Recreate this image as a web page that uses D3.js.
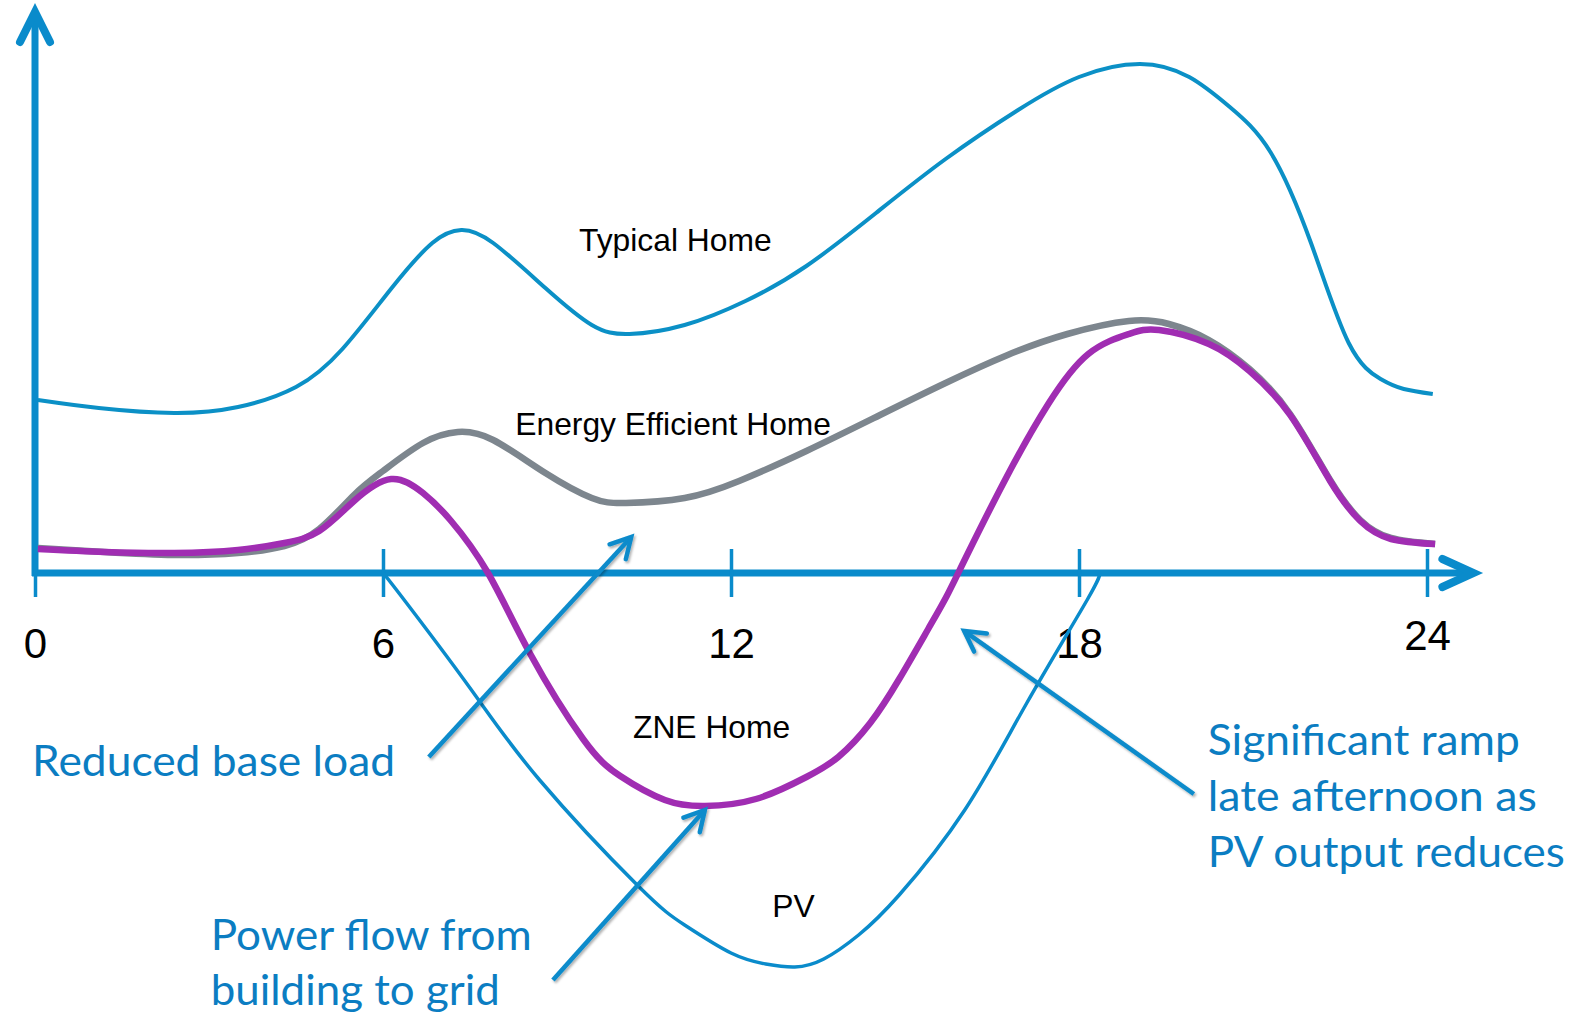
<!DOCTYPE html>
<html>
<head>
<meta charset="utf-8">
<script src="https://cdn.jsdelivr.net/npm/d3@7"></script>
<style>
    html, body { margin: 0; padding: 0; background: #fff; }
    svg { display: block; }
</style>
</head>
<body>
<div id="chart"></div>
<script>
// hours of the day shown on the x axis
const hourTicks = [0, 6, 12, 18, 24];

// load profiles, [hour, load] pairs
const typicalHome = [
    [0.05, 1.73], [1.1, 1.65], [2.4, 1.60], [3.5, 1.66], [4.5, 1.86], [5.3, 2.24],
    [6.15, 2.85], [6.85, 3.30], [7.35, 3.43], [7.9, 3.30], [8.8, 2.85], [9.6, 2.48],
    [10.25, 2.39], [11.2, 2.48], [12.25, 2.72], [13.3, 3.07], [14.5, 3.60], [15.7, 4.14],
    [16.95, 4.63], [18.0, 4.96], [19.05, 5.09], [19.9, 4.96], [20.6, 4.66], [21.3, 4.21],
    [22.0, 3.30], [22.65, 2.30], [23.2, 1.94], [23.6, 1.84], [24.1, 1.79]
];

const efficientHome = [
    [0.05, 0.25], [1.2, 0.21], [2.4, 0.18], [3.5, 0.20], [4.3, 0.27], [4.9, 0.44],
    [5.5, 0.78], [6.0, 1.02], [6.69, 1.30], [7.29, 1.41], [7.9, 1.33], [8.8, 1.00],
    [9.6, 0.75], [10.19, 0.70], [11.2, 0.75], [12.14, 0.92], [13.3, 1.22], [14.57, 1.58],
    [15.7, 1.90], [16.77, 2.18], [17.8, 2.39], [18.86, 2.52], [19.55, 2.49], [20.24, 2.33],
    [20.94, 2.04], [21.64, 1.59], [22.33, 0.93], [22.85, 0.53], [23.38, 0.35], [24.14, 0.29]
];

const zneHome = [
    [0.05, 0.24], [1.2, 0.21], [2.4, 0.20], [3.5, 0.23], [4.3, 0.30], [4.9, 0.42],
    [5.5, 0.72], [6.14, 0.94], [6.69, 0.80], [7.16, 0.53], [7.81, 0.0], [8.53, -0.80],
    [9.45, -1.66], [10.09, -2.03], [10.86, -2.27], [11.55, -2.33], [12.43, -2.26], [13.3, -2.04],
    [13.85, -1.84], [14.4, -1.50], [14.9, -1.06], [15.4, -0.56], [15.72, -0.23], [16.07, 0.18],
    [16.77, 0.98], [17.47, 1.69], [18.16, 2.19], [18.86, 2.39], [19.38, 2.43], [20.24, 2.29],
    [20.94, 2.02], [21.64, 1.58], [22.33, 0.92], [22.85, 0.52], [23.38, 0.34], [24.14, 0.29]
];

const pvOutput = [
    [6.0, 0.0], [6.3, -0.22], [7.5, -1.15], [8.7, -2.07], [10.4, -3.13], [11.2, -3.52],
    [12.0, -3.80], [12.6, -3.91], [13.1, -3.94], [13.6, -3.86], [14.2, -3.62], [14.9, -3.22],
    [16.03, -2.37], [17.1, -1.30], [18.14, -0.27], [18.36, 0.0]
];

const seriesNames = ["Typical Home", "Energy Efficient Home", "ZNE Home", "PV"];

const notes = [
    ["Reduced base load"],
    ["Power flow from", "building to grid"],
    ["Significant ramp", "late afternoon as", "PV output reduces"]
];

// callout arrows, [from, to] in [hour, load]
const noteArrows = [
    [[6.79, -1.84], [10.28, 0.36]],
    [[8.93, -4.07], [11.55, -2.37]],
    [[19.98, -2.21], [16.02, -0.58]]
];

const W = 1580, H = 1021;
const blue = "#0a8bcb";
const textBlue = "#0b7dc2";

const svg = d3.select("#chart")
    .append("svg")
    .attr("width", W)
    .attr("height", H);

const defs = svg.append("defs");
defs.append("filter")
    .attr("id", "shadow")
    .attr("x", "-10%").attr("y", "-10%")
    .attr("width", "130%").attr("height", "130%")
    .append("feDropShadow")
    .attr("dx", 1.5).attr("dy", 2)
    .attr("stdDeviation", 1.3)
    .attr("flood-color", "#000")
    .attr("flood-opacity", 0.3);

const x = d3.scaleLinear().domain([0, 24]).range([35, 1427]);
const y = d3.scaleLinear().domain([-4, 5.6]).range([973, 13]);

// arrow head as two wings meeting at the tip
function ArrowHead(g, tip, angle, back, side, width, color) {
    const cos = Math.cos(angle), sin = Math.sin(angle);
    const w1 = [tip[0] - back * cos - side * sin, tip[1] - back * sin + side * cos];
    const w2 = [tip[0] - back * cos + side * sin, tip[1] - back * sin - side * cos];
    g.append("path")
        .attr("d", `M${w1[0]},${w1[1]}L${tip[0]},${tip[1]}L${w2[0]},${w2[1]}`)
        .attr("fill", "none")
        .attr("stroke", color)
        .attr("stroke-width", width)
        .attr("stroke-linecap", "round")
        .attr("stroke-linejoin", "miter");
}

// axes
const axes = svg.append("g");
const y0 = y(0);

axes.append("line")
    .attr("x1", x(0)).attr("x2", x(0))
    .attr("y1", y0 + 3).attr("y2", y(5.61) + 4)
    .attr("stroke", blue).attr("stroke-width", 7);
ArrowHead(axes, [x(0), y(5.61)], -Math.PI / 2, 30, 15, 8, blue);

axes.append("line")
    .attr("x1", x(0) - 3).attr("x2", x(24.8) - 5)
    .attr("y1", y0).attr("y2", y0)
    .attr("stroke", blue).attr("stroke-width", 7);
ArrowHead(axes, [x(24.8), y0], 0, 31, 14, 8, blue);

const xAxis = axes.append("g")
    .attr("transform", `translate(0,${y0})`)
    .call(d3.axisBottom(x).tickValues(hourTicks).tickSize(24).tickFormat(d3.format("d")));

xAxis.select(".domain").remove();
xAxis.selectAll(".tick line")
    .attr("y1", -24).attr("y2", 24)
    .attr("stroke", blue).attr("stroke-width", 3.5);
xAxis.selectAll(".tick text")
    .attr("y", d => d === 24 ? 77 : 85)
    .attr("dy", 0)
    .attr("fill", "#000")
    .attr("font-family", "'Liberation Sans', Arial, sans-serif")
    .attr("font-size", 42);

// curves
const line = d3.line()
    .x(d => x(d[0]))
    .y(d => y(d[1]))
    .curve(d3.curveNatural);

const curves = svg.append("g").attr("fill", "none").attr("stroke-linecap", "butt");

curves.append("path").datum(typicalHome)
    .attr("d", line).attr("stroke", "#0b90c6").attr("stroke-width", 4);
curves.append("path").datum(efficientHome)
    .attr("d", line).attr("stroke", "#7d868e").attr("stroke-width", 6.5);
curves.append("path").datum(zneHome)
    .attr("d", line).attr("stroke", "#a02db2").attr("stroke-width", 6.5);
curves.append("path").datum(pvOutput)
    .attr("d", line).attr("stroke", blue).attr("stroke-width", 3.5);

// series labels
const labelSpots = [[9.38, 3.22], [8.28, 1.38], [10.31, -1.65], [12.71, -3.44]];
svg.append("g")
    .selectAll("text")
    .data(seriesNames)
    .join("text")
    .attr("x", (d, i) => x(labelSpots[i][0]))
    .attr("y", (d, i) => y(labelSpots[i][1]))
    .attr("font-family", "'Liberation Sans', Arial, sans-serif")
    .attr("font-size", 31.8)
    .attr("fill", "#000")
    .text(d => d);

// callout arrows
const arrows = svg.append("g").attr("filter", "url(#shadow)");
noteArrows.forEach(([from, to]) => {
    const p0 = [x(from[0]), y(from[1])];
    const p1 = [x(to[0]), y(to[1])];
    const angle = Math.atan2(p1[1] - p0[1], p1[0] - p0[0]);
    arrows.append("line")
        .attr("x1", p0[0]).attr("y1", p0[1])
        .attr("x2", p1[0] - 2 * Math.cos(angle)).attr("y2", p1[1] - 2 * Math.sin(angle))
        .attr("stroke", blue).attr("stroke-width", 4.5)
        .attr("stroke-linecap", "butt");
    ArrowHead(arrows, p1, angle, 20, 11, 4.5, blue);
});

// callout texts
const noteSpots = [[-0.05, -2.03], [3.03, -3.77], [20.22, -1.82]];
const noteWidths = [[363], [321, 289], [312, 329, 357]];
const noteLead = [0, 55, 56];
const noteText = svg.append("g")
    .attr("font-family", "Lato, 'Open Sans', sans-serif")
    .attr("font-size", 43)
    .attr("fill", textBlue);

notes.forEach((lines, i) => {
    lines.forEach((t, j) => {
        noteText.append("text")
            .attr("x", x(noteSpots[i][0]))
            .attr("y", y(noteSpots[i][1]) + j * noteLead[i])
            .attr("textLength", noteWidths[i][j])
            .attr("lengthAdjust", "spacingAndGlyphs")
            .text(t);
    });
});
</script>
</body>
</html>
